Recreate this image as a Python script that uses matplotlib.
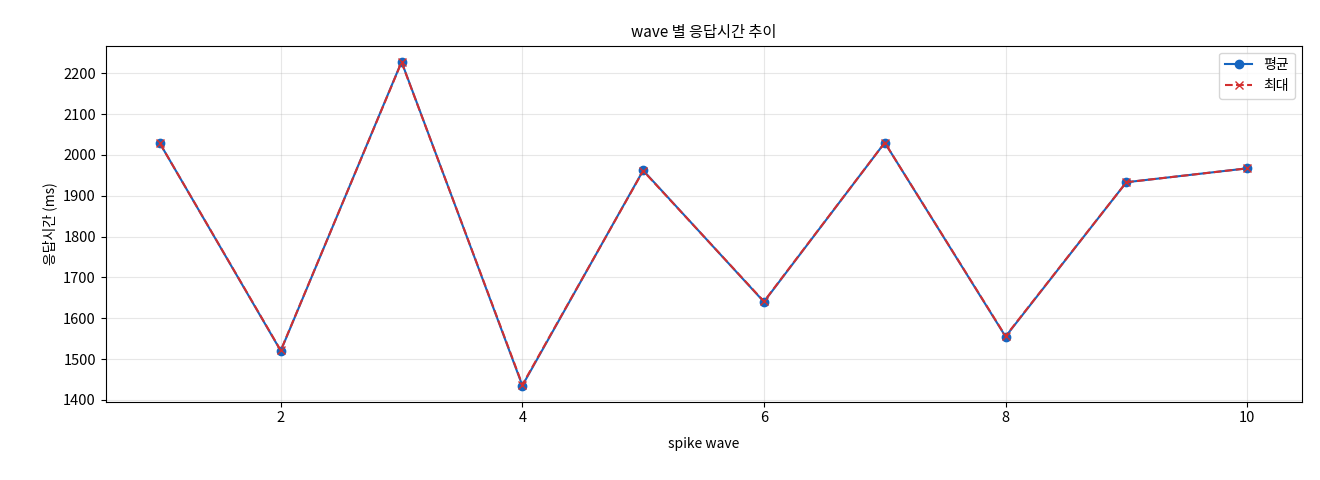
import matplotlib
matplotlib.use("Agg")
import matplotlib.pyplot as plt

plt.rcParams['font.family'] = ['Noto Sans CJK KR', 'DejaVu Sans']

waves = [1, 2, 3, 4, 5, 6, 7, 8, 9, 10]
avg_ms = [2028, 1520, 2228, 1435, 1962, 1640, 2030, 1555, 1933, 1967]
max_ms = [2028, 1521, 2227, 1437, 1961, 1641, 2030, 1556, 1933, 1967]

fig, ax = plt.subplots(figsize=(13.2, 4.8), dpi=100)
ax.plot(waves, avg_ms, marker='o', color='#1565c0', label='평균')
ax.plot(waves, max_ms, marker='x', linestyle='--', color='#d32f2f', label='최대')
ax.set_title('wave 별 응답시간 추이', fontsize=11)
ax.set_xlabel('spike wave', labelpad=8)
ax.set_ylabel('응답시간 (ms)')
ax.tick_params(labelsize=10.5)
ax.grid(True, alpha=0.3)
ax.legend(loc='upper right')
fig.subplots_adjust(left=0.08, right=0.986, top=0.905, bottom=0.163)
fig.savefig('out.png')
